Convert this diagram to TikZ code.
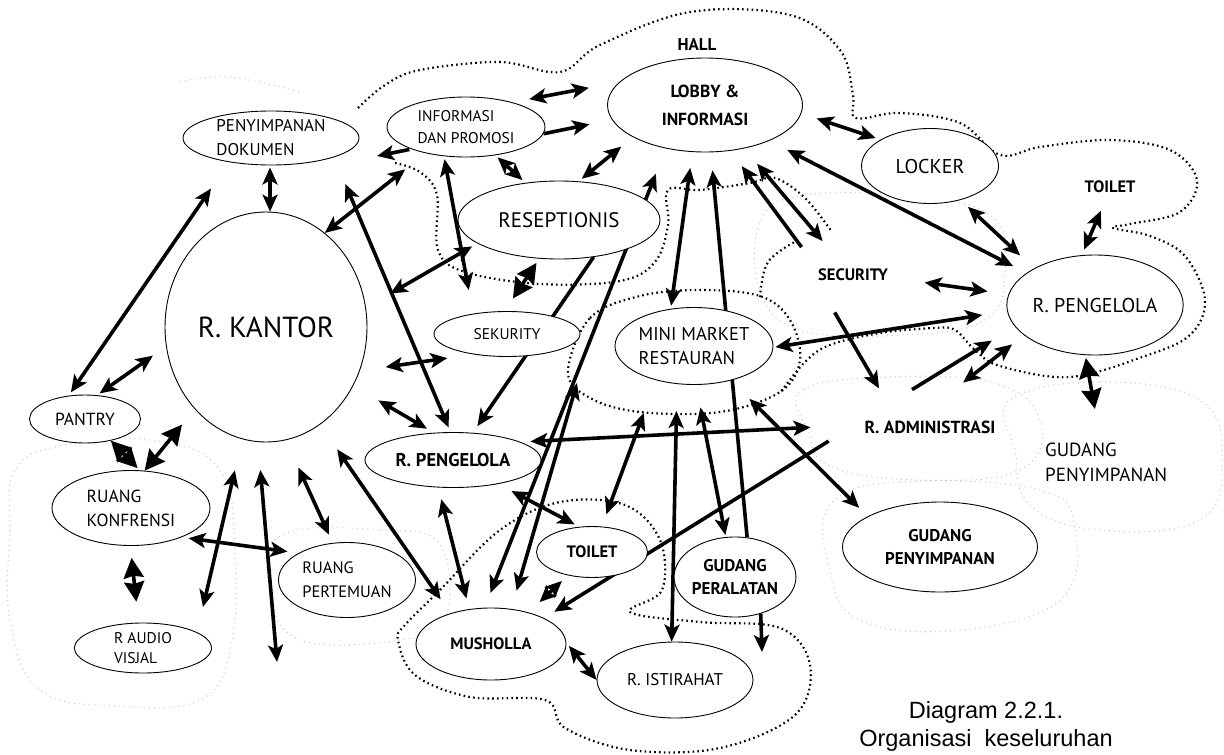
\documentclass[tikz,border=0pt]{standalone}
\usepackage{fontspec}
\setmainfont{PT Sans}
\newfontfamily\capfont{Liberation Sans}
\usetikzlibrary{shapes.geometric,arrows.meta}
\pgfdeclarelayer{bg}
\pgfsetlayers{bg,main}
\begin{document}
\begin{tikzpicture}[x=1pt, y=-1pt, >={Stealth[length=17pt,width=15pt,inset=4pt]},
	room/.style={ellipse, draw, line width=0.9pt, fill=white, inner sep=0pt, align=center, font=\fontsize{17}{24}\selectfont},
	heavy/.style={font=\bfseries\fontsize{17}{23}\selectfont},
	tag/.style={inner sep=1pt, font=\bfseries\fontsize{16.5}{20}\selectfont},
	link/.style={line width=3.6pt},
	fat/.style={>={Stealth[length=20pt,width=20pt,inset=2pt]}},
	ends/.style 2 args={shorten <=#1pt, shorten >=#2pt},
	dots/.style={line width=2.2pt, dash pattern=on 1.6pt off 3.2pt},
	faint/.style={gray!40, line width=1.2pt, dash pattern=on 1pt off 4pt}]
	\useasboundingbox (0,0) rectangle (1224,755);
	\node[room, minimum width=176pt, minimum height=54pt, align=left] (dok) at (271,138) {PENYIMPANAN\\DOKUMEN};
	\node[room, minimum width=158pt, minimum height=60pt, align=left, font=\fontsize{15.5}{22}\selectfont] (info) at (466,127) {INFORMASI\\DAN PROMOSI};
	\node[room, heavy, minimum width=195pt, minimum height=94pt, font=\bfseries\fontsize{17.5}{28}\selectfont] (lobby) at (705,105) {LOBBY \&\\INFORMASI};
	\node[room, minimum width=202pt, minimum height=78pt, font=\fontsize{21}{24}\selectfont] (resep) at (559,220) {RESEPTIONIS};
	\node[room, minimum width=137pt, minimum height=75pt, font=\fontsize{20}{22}\selectfont] (locker) at (930,166) {LOCKER};
	\node[room, minimum width=167pt, minimum height=100pt, font=\fontsize{20}{22}\selectfont] (pengA) at (1095,305) {R. PENGELOLA};
	\node[room, minimum width=202pt, minimum height=230pt, font=\fontsize{29}{32}\selectfont] (kantor) at (266,327) {R. KANTOR};
	\node[room, minimum width=111pt, minimum height=48pt, font=\fontsize{17.5}{20}\selectfont] (pantry) at (85,419) {PANTRY};
	\node[room, minimum width=158pt, minimum height=75pt, align=left, font=\fontsize{17.5}{24}\selectfont] (konf) at (131,508) {RUANG\\KONFRENSI};
	\node[room, minimum width=137pt, minimum height=50pt, align=left, font=\fontsize{15.5}{20}\selectfont] (audio) at (143,648) {R AUDIO\\VISJAL};
	\node[room, minimum width=137pt, minimum height=75pt, align=left, font=\fontsize{16.5}{24}\selectfont] (temu) at (347,580) {RUANG\\PERTEMUAN};
	\node[room, minimum width=146pt, minimum height=45pt, font=\fontsize{15.5}{18}\selectfont] (sekur) at (507,334) {SEKURITY};
	\node[room, minimum width=158pt, minimum height=77pt, align=left, font=\fontsize{18.5}{24}\selectfont] (mini) at (694,346) {MINI MARKET\\RESTAURAN};
	\node[room, heavy, minimum width=176pt, minimum height=55pt, font=\bfseries\fontsize{18.5}{22}\selectfont] (pengB) at (453,460) {R. PENGELOLA};
	\node[room, heavy, minimum width=111pt, minimum height=51pt, font=\bfseries\fontsize{16.5}{20}\selectfont] (toiletB) at (592,552) {TOILET};
	\node[room, heavy, minimum width=116pt, minimum height=80pt] (peral) at (735,577) {GUDANG\\PERALATAN};
	\node[room, heavy, minimum width=195pt, minimum height=90pt] (gudB) at (940,547) {GUDANG\\PENYIMPANAN};
	\node[room, heavy, minimum width=150pt, minimum height=72pt, font=\bfseries\fontsize{16.5}{20}\selectfont] (mush) at (491,644) {MUSHOLLA};
	\node[room, minimum width=156pt, minimum height=76pt, font=\fontsize{17}{20}\selectfont] (istir) at (675,680) {R. ISTIRAHAT};
	\node[tag, font=\bfseries\fontsize{17}{20}\selectfont] (hall) at (697,45) {HALL};
	\node[tag] (secu) at (853,275) {SECURITY};
	\node[tag, font=\bfseries\fontsize{17.5}{20}\selectfont] (admin) at (930,427) {R. ADMINISTRASI};
	\node[tag] (toiletA) at (1110,187) {TOILET};
	\node[inner sep=1pt, anchor=west, align=left, font=\fontsize{19}{25}\selectfont] (gudA) at (1044,462) {GUDANG\\PENYIMPANAN};
	\node[align=center, font=\capfont\fontsize{23.5}{28}\selectfont] (caption) at (986,726) {Diagram 2.2.1.\\Organisasi\ \ keseluruhan};
	\coordinate (c4) at (377,156);
	\coordinate (c14) at (577,383);
	\coordinate (c35) at (762,652);
	\coordinate (c49) at (203,607);
	\coordinate (c50) at (277,662);
	\begin{pgfonlayer}{bg}
		\draw[faint] plot[smooth, tension=0.7] coordinates {(180,82) (230,77) (300,92)};
		\draw[faint] plot[smooth cycle, tension=0.7] coordinates {(760,222) (800,196) (900,195) (990,215) (1005,270) (985,320) (900,335) (800,330) (760,290)};
		\draw[faint] plot[smooth cycle, tension=0.7] coordinates {(800,392) (870,378) (990,382) (1040,420) (1020,470) (920,480) (830,466) (808,430)};
		\draw[faint] plot[smooth cycle, tension=0.7] coordinates {(1010,400) (1100,382) (1200,400) (1222,460) (1200,520) (1100,530) (1030,505) (1015,450)};
		\draw[faint] plot[smooth cycle, tension=0.7] coordinates {(830,505) (900,482) (1040,490) (1075,530) (1060,600) (960,630) (860,620) (830,570)};
		\draw[faint] plot[smooth cycle, tension=0.7] coordinates {(15,470) (60,446) (150,440) (220,470) (235,560) (230,650) (200,700) (120,706) (40,690) (10,620) (10,530)};
		\draw[faint] plot[smooth cycle, tension=0.7] coordinates {(282,535) (380,530) (440,545) (445,620) (400,640) (300,640) (270,590)};
		\draw[dots] plot[smooth, tension=0.6] coordinates {(358,108) (385,85) (420,70) (500,62) (560,72) (600,45) (690,12) (790,15) (840,50) (853,95) (856,118) (900,113) (960,123) (1000,155) (1040,147) (1110,140) (1170,150) (1197,180) (1180,212) (1130,224) (1113,228) (1150,236) (1185,256) (1205,300) (1190,335) (1145,356) (1070,377) (1000,366) (975,350) (955,330) (935,328) (880,333) (830,345) (805,362) (780,393)};
		\draw[dots] plot[smooth, tension=0.6] coordinates {(395,163) (420,172) (437,195) (438,250) (465,272) (540,284) (620,281) (655,262) (668,225) (668,190) (700,190) (750,183) (775,178) (805,198) (832,232)};
		\draw[dots] plot[smooth cycle, tension=0.6] coordinates {(568,372) (590,318) (640,296) (700,290) (760,296) (790,320) (800,360) (780,392) (720,412) (640,412) (590,398)};
		\draw[dots] plot[smooth, tension=0.6] coordinates {(760,297) (768,262) (798,240)};
		\draw[dots] plot[smooth cycle, tension=0.6] coordinates {(405,625) (440,590) (500,530) (560,502) (625,505) (660,540) (662,590) (630,612) (700,622) (780,628) (810,665) (795,715) (720,748) (630,750) (565,728) (545,700) (470,697) (415,675) (398,640)};
		\draw[link,<->,ends={4}{32}] (pantry.125) -- (dok.210);
		\draw[link,<->,ends={2}{0}] (dok.268) -- (kantor.88);
		\draw[link,<->,ends={0}{26}] (kantor.58) -- (info.213);
		\draw[link,->,ends={2}{0}] (info.202) -- (c4);
		\draw[link,<->,ends={29}{5}] (dok.343) -- (pengB.95);
		\draw[link,<->,ends={3}{24}] (info.233) -- (sekur.149);
		\draw[link,<->,ends={28}{6}] (kantor.11) -- (resep.196);
		\draw[link,fat,<->,ends={15}{5}] (sekur.96) -- (resep.243);
		\draw[link,<->,ends={3}{4}] (info.316) -- (resep.132);
		\draw[link,<->,ends={17}{31}] (info.28) -- (lobby.165);
		\draw[link,->,ends={0}{23}] (info.355) -- (lobby.189);
		\draw[link,<->,ends={4}{15}] (resep.63) -- (lobby.204);
		\draw[link,<->,ends={27}{16}] (lobby.228) -- (mush.100);
		\draw[link,<->,ends={19}{0}] (mush.60) -- (c14);
		\draw[link,<->,ends={16}{3}] (lobby.255) -- (mini.122);
		\draw[link,<-,ends={18}{0}] (lobby.277) -- (peral.73);
		\draw[link,<-,ends={19}{26}] (lobby.299) -- (secu.169);
		\draw[link,<->,ends={20}{35}] (lobby.312) -- (secu.137);
		\draw[link,<->,ends={20}{15}] (lobby.331) -- (pengA.155);
		\draw[link,<->,ends={16}{5}] (lobby.355) -- (locker.152);
		\draw[link,<->,ends={10}{19}] (locker.312) -- (pengA.149);
		\draw[link,<->,ends={18}{6}] (toiletA.255) -- (pengA.105);
		\draw[link,<->,ends={36}{21}] (secu.356) -- (pengA.173);
		\draw[link,<->,ends={2}{25}] (mini.359) -- (pengA.184);
		\draw[link,->,ends={35}{36}] (secu.south west) -- (admin.167);
		\draw[link,->,ends={57}{27}] (admin.north west) -- (pengA.195);
		\draw[link,<->,ends={60}{15}] (admin.152) -- (pengA.203);
		\draw[link,fat,<->,ends={3}{33}] (pengA.259) -- (gudA.105);
		\draw[link,<->,ends={10}{53}] (pengB.15) -- (admin.178);
		\draw[link,->,ends={41}{12}] (admin.north west) -- (mush.26);
		\draw[link,<->,ends={26}{12}] (mini.317) -- (gudB.157);
		\draw[link,<->,ends={35}{13}] (mini.222) -- (toiletB.69);
		\draw[link,<->,ends={27}{0}] (mini.246) -- (istir.95);
		\draw[link,<->,ends={23}{2}] (mini.273) -- (peral.103);
		\draw[link,->] (peral.305) -- (c35);
		\draw[link,<->,ends={4}{0}] (mush.1) -- (istir.180);
		\draw[link,<->,ends={12}{11}] (pengB.242) -- (mush.122);
		\draw[link,<->,ends={15}{5}] (pengB.332) -- (toiletB.117);
		\draw[link,<->,ends={8}{15}] (toiletB.224) -- (mush.40);
		\draw[link,<->,ends={30}{17}] (kantor.299) -- (mush.143);
		\draw[link,->,ends={0}{8}] (resep.313) -- (pengB.54);
		\draw[link,<->,ends={26}{26}] (kantor.335) -- (sekur.211);
		\draw[link,<->,ends={29}{8}] (kantor.326) -- (pengB.125);
		\draw[link,<->,ends={16}{3}] (kantor.191) -- (pantry.63);
		\draw[link,fat,<->,ends={0}{3}] (pantry.320) -- (konf.77);
		\draw[link,fat,<->,ends={0}{20}] (konf.70) -- (kantor.229);
		\draw[link,fat,<->,ends={12}{21}] (konf.269) -- (audio.100);
		\draw[link,<->,ends={7}{11}] (konf.330) -- (temu.151);
		\draw[link,<->,ends={32}{0}] (kantor.258) -- (c49);
		\draw[link,<->,ends={28}{0}] (kantor.266) -- (c50);
		\draw[link,<->,ends={30}{9}] (kantor.280) -- (temu.111);
	\end{pgfonlayer}
\end{tikzpicture}
\end{document}
